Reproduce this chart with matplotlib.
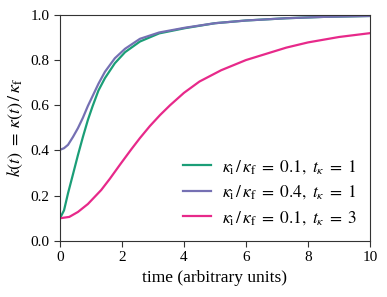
import matplotlib
matplotlib.use("Agg")
import matplotlib.pyplot as plt

plt.rcParams['font.family'] = 'serif'
plt.rcParams['font.serif'] = ['Liberation Serif', 'DejaVu Serif']
plt.rcParams['mathtext.fontset'] = 'stix'

# values
t_fast = [0, 0.13, 0.26, 0.42, 0.58, 0.74, 0.9, 1.05, 1.24, 1.45, 1.77, 2.1,
          2.58, 3.2, 4.03, 5, 6, 7.3, 8.5, 10]
k_green = [0.1, 0.135, 0.211, 0.295, 0.38, 0.46, 0.535, 0.595, 0.665, 0.72,
           0.786, 0.835, 0.882, 0.918, 0.941, 0.963, 0.975, 0.985, 0.991,
           0.995]
k_purple = [0.403, 0.41, 0.425, 0.46, 0.499, 0.545, 0.597, 0.64, 0.695,
            0.748, 0.808, 0.85, 0.894, 0.922, 0.943, 0.963, 0.975, 0.985,
            0.991, 0.995]
t_slow = [0, 0.3, 0.58, 0.9, 1.33, 1.61, 1.94, 2.3, 2.58, 2.9, 3.23, 3.55, 4,
          4.5, 5.2, 6, 7.3, 8, 9, 10]
k_magenta = [0.1, 0.106, 0.128, 0.163, 0.225, 0.275, 0.338, 0.405, 0.455,
             0.508, 0.557, 0.6, 0.655, 0.705, 0.755, 0.8, 0.855, 0.878, 0.902,
             0.919]

labels = [r'$\kappa_\mathrm{i}\,/\,\kappa_\mathrm{f}\;=\;0.1,\ t_\kappa\;=\;1$',
          r'$\kappa_\mathrm{i}\,/\,\kappa_\mathrm{f}\;=\;0.4,\ t_\kappa\;=\;1$',
          r'$\kappa_\mathrm{i}\,/\,\kappa_\mathrm{f}\;=\;0.1,\ t_\kappa\;=\;3$']
colors = ['#1b9e77', '#7570b3', '#e7298a']

fig = plt.figure(figsize=(3.87, 2.97), dpi=100)
ax = fig.add_axes([0.155, 0.189, 0.801, 0.761])

ax.plot(t_fast, k_green, color=colors[0], lw=1.6, label=labels[0])
ax.plot(t_fast, k_purple, color=colors[1], lw=1.6, label=labels[1])
ax.plot(t_slow, k_magenta, color=colors[2], lw=1.6, label=labels[2])

ax.set_xlim(0, 10)
ax.set_ylim(0, 1)
ax.set_xticks([0, 2, 4, 6, 8, 10])
ax.set_yticks([0, 0.2, 0.4, 0.6, 0.8, 1.0])
ax.tick_params(labelsize=11, length=4, direction='out', color='#333333')
for s in ax.spines.values():
    s.set_color('#333333')
ax.set_xlabel('time (arbitrary units)', fontsize=12.5)
ax.set_ylabel(r'$k(t)\;=\;\kappa(t)\,/\,\kappa_\mathrm{f}$', fontsize=13)
ax.legend(loc='lower right', frameon=False, fontsize=12.5, handlelength=1.6,
          handletextpad=0.6, labelspacing=0.45, borderaxespad=0.4)

fig.savefig('out.png', dpi=100)
